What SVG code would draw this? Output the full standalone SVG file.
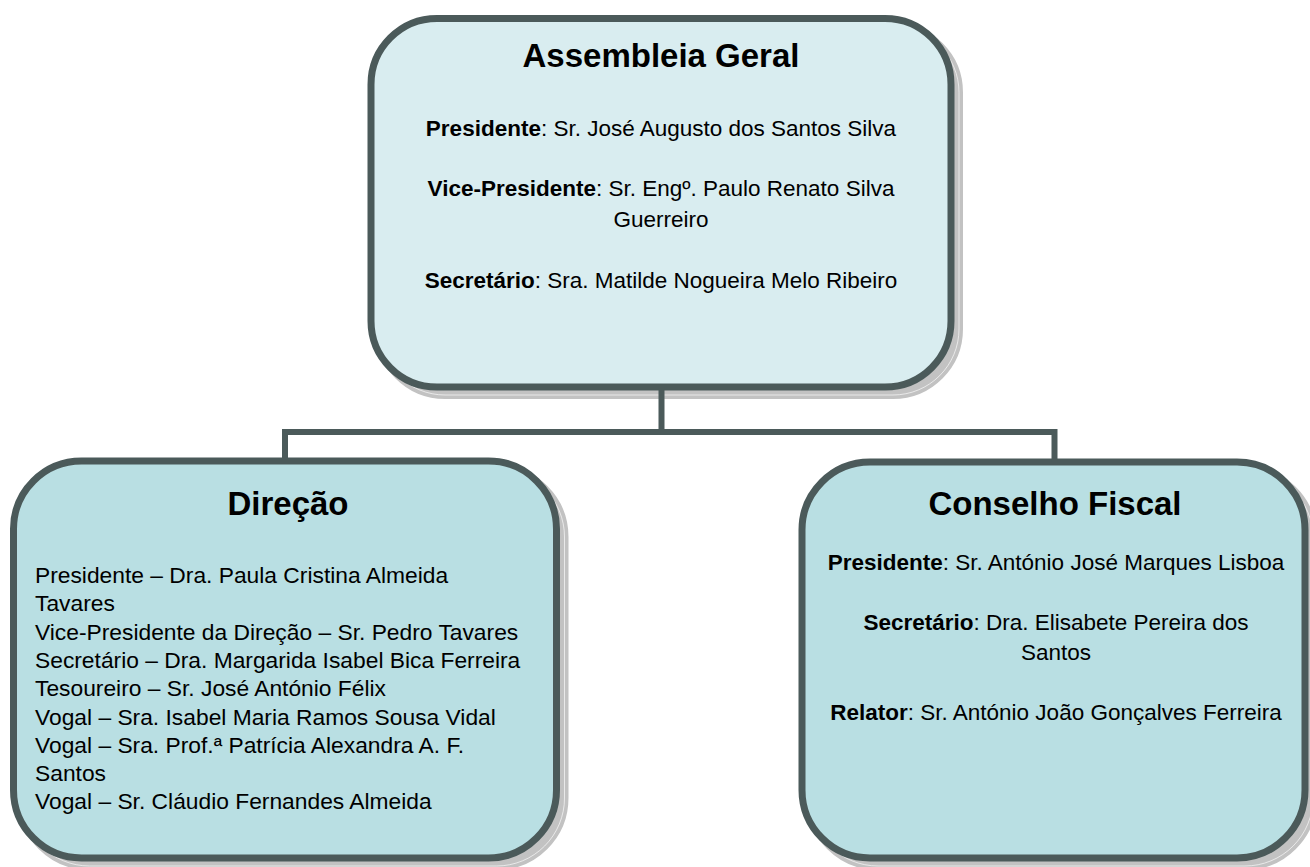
<svg xmlns="http://www.w3.org/2000/svg" width="1310" height="867" viewBox="0 0 1310 867">
  <style>
    .shadow { fill: #c2c2c2; stroke: #c2c2c2; stroke-width: 8; }
    .shline { fill: none; stroke: #ffffff; stroke-width: 0.8; opacity: 0.8; }
    .box { stroke: #4b5a5a; stroke-width: 7; }
    .top { fill: #d9edf0; }
    .sub { fill: #b9dfe3; }
    .conn { fill: none; stroke: #4b5a5a; stroke-width: 6; stroke-linejoin: miter; }
    text { font-family: "Liberation Sans", Arial, sans-serif; fill: #000000; }
    .title { font-size: 33px; font-weight: bold; text-anchor: middle; }
    .body { font-size: 22.5px; }
    .left { font-size: 22.8px; }
    .c { text-anchor: middle; }
    .b { font-weight: bold; }
  </style>
  <rect width="1310" height="867" fill="#ffffff"/>

  <g id="assembleia-geral">
    <rect class="shadow" x="379" y="26.5" width="580" height="368.5" rx="66"/>
    <rect class="shline" x="379" y="26.5" width="580" height="368.5" rx="66"/>
    <rect class="box top" x="371" y="18.5" width="580" height="368.5" rx="66"/>
    <text class="title" x="661" y="67">Assembleia Geral</text>
    <text class="body c" x="661" y="136"><tspan class="b">Presidente</tspan>: Sr. José Augusto dos Santos Silva</text>
    <text class="body c" x="661" y="196"><tspan class="b">Vice-Presidente</tspan>: Sr. Engº. Paulo Renato Silva</text>
    <text class="body c" x="661" y="227">Guerreiro</text>
    <text class="body c" x="661" y="288"><tspan class="b">Secretário</tspan>: Sra. Matilde Nogueira Melo Ribeiro</text>
  </g>

  <g id="direcao">
    <rect class="shadow" x="21.5" y="469" width="543" height="397" rx="68"/>
    <rect class="shline" x="21.5" y="469" width="543" height="397" rx="68"/>
    <rect class="box sub" x="13.5" y="461" width="543" height="397" rx="68"/>
    <text class="title" x="288" y="515">Direção</text>
    <text class="body left" x="35" y="583">Presidente – Dra. Paula Cristina Almeida</text>
    <text class="body left" x="35" y="611.3">Tavares</text>
    <text class="body left" x="35" y="639.6">Vice-Presidente da Direção – Sr. Pedro Tavares</text>
    <text class="body left" x="35" y="667.9">Secretário – Dra. Margarida Isabel Bica Ferreira</text>
    <text class="body left" x="35" y="696.2">Tesoureiro – Sr. José António Félix</text>
    <text class="body left" x="35" y="724.5">Vogal – Sra. Isabel Maria Ramos Sousa Vidal</text>
    <text class="body left" x="35" y="752.8">Vogal – Sra. Prof.ª Patrícia Alexandra A. F.</text>
    <text class="body left" x="35" y="781.1">Santos</text>
    <text class="body left" x="35" y="809.4">Vogal – Sr. Cláudio Fernandes Almeida</text>
  </g>

  <g id="conselho-fiscal">
    <rect class="shadow" x="810" y="470" width="503" height="396" rx="68"/>
    <rect class="shline" x="810" y="470" width="503" height="396" rx="68"/>
    <rect class="box sub" x="802" y="462" width="503" height="396" rx="68"/>
    <text class="title" x="1055" y="515">Conselho Fiscal</text>
    <text class="body c" x="1056" y="570"><tspan class="b">Presidente</tspan>: Sr. António José Marques Lisboa</text>
    <text class="body c" x="1056" y="630"><tspan class="b">Secretário</tspan>: Dra. Elisabete Pereira dos</text>
    <text class="body c" x="1056" y="660">Santos</text>
    <text class="body c" x="1056" y="720"><tspan class="b">Relator</tspan>: Sr. António João Gonçalves Ferreira</text>
  </g>

  <g id="connectors">
    <path class="conn" d="M661.5,387 V432 M285,461 V432 H1054.5 V462"/>
  </g>
</svg>
